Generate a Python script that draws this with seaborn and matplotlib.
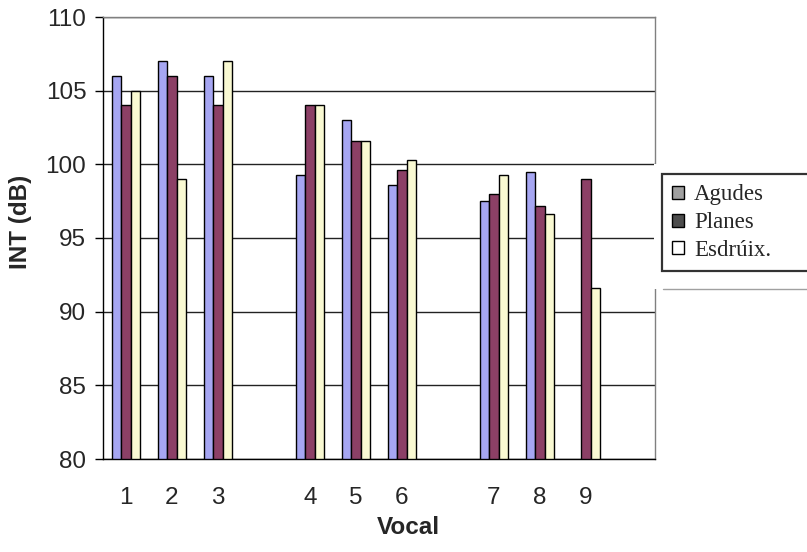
import numpy as np
import pandas as pd
import matplotlib
matplotlib.use('Agg')
import matplotlib.pyplot as plt
from matplotlib.patches import Patch, Rectangle
from matplotlib.lines import Line2D
import seaborn as sns

# dades (valors llegits del gràfic)
vocals = ['1', '2', '3', ' ', '4', '5', '6', '  ', '7', '8', '9', '   ']
agudes = [106, 107, 106, np.nan, 99.3, 103, 98.6, np.nan, 97.5, 99.5, np.nan, np.nan]
planes = [104, 106, 104, np.nan, 104, 101.6, 99.6, np.nan, 98, 97.2, 99, np.nan]
esdruix = [105, 99, 107, np.nan, 104, 101.6, 100.3, np.nan, 99.3, 96.6, 91.6, np.nan]
series = ['Agudes', 'Planes', 'Esdrúix.']
colors = ['#9999FF', '#993366', '#FFFFCC']
legend_colors = ['#A0A0A0', '#4D4D4D', '#FFFFFF']

df = pd.DataFrame({'vocal': vocals * 3,
                   'tipus': [s for s in series for _ in vocals],
                   'int': agudes + planes + esdruix})

sns.set_style('white')
plt.rcParams['font.family'] = ['Liberation Sans', 'DejaVu Sans']

fig = plt.figure(figsize=(8.07, 5.52), dpi=100)
ax = fig.add_axes([103/807, 1-459/552, 552/807, 442/552])

sns.barplot(data=df, x='vocal', y='int', hue='tipus', order=vocals,
            hue_order=series, palette=colors, width=0.6, gap=0,
            edgecolor='black', linewidth=1, errorbar=None, legend=False, ax=ax)

ax.set_ylim(80, 110)
ax.set_yticks(range(80, 111, 5))
ax.set_xlim(-0.5, len(vocals) - 0.5)
ax.yaxis.grid(True, color='#222222', linewidth=1)
ax.set_axisbelow(True)

# ticks: etiquetes al centre, marques a les fronteres
ax.set_xticks(range(len(vocals)))
ax.set_xticklabels(vocals)
ax.set_xticks(np.arange(-0.5, len(vocals)), minor=True)
ax.tick_params(axis='x', which='major', length=0, pad=20, labelsize=17.5)
ax.tick_params(axis='x', which='minor', length=6, width=1, color='black')
ax.tick_params(axis='y', length=6, width=1, color='black', pad=6, labelsize=17.5, left=True)

for s in ['left', 'bottom']:
    ax.spines[s].set_color('black')
    ax.spines[s].set_linewidth(1)
for s in ['top', 'right']:
    ax.spines[s].set_color('#808080')
    ax.spines[s].set_linewidth(1)

ax.set_xlabel('Vocal', fontsize=17.5, fontweight='bold')
ax.set_ylabel('INT (dB)', fontsize=17.5, fontweight='bold')
ax.xaxis.set_label_coords(0.553, -0.13)
ax.yaxis.set_label_coords(-0.128, 0.536)

# zona blanca de la llegenda (com a l'original)
fig.patches.append(Rectangle((654/807, 1-289/552), 153/807, 125/552,
                             transform=fig.transFigure, facecolor='white',
                             edgecolor='none', zorder=2))
fig.lines.append(Line2D([663/807, 1], [1-289/552, 1-289/552], transform=fig.transFigure,
                        color='#A0A0A0', linewidth=1, zorder=3))

handles = [Patch(facecolor=c, edgecolor='black', linewidth=1) for c in legend_colors]
leg = fig.legend(handles, series, loc='upper left', mode='expand',
                 bbox_to_anchor=(662/807, 1-174/552, 160/807, 0.0),
                 bbox_transform=fig.transFigure,
                 prop={'family': 'Liberation Serif', 'size': 16.5},
                 handlelength=0.5, handleheight=0.5, handletextpad=0.45,
                 labelspacing=0.3, borderpad=0.45, borderaxespad=0,
                 fancybox=False, frameon=True)
leg.get_frame().set_edgecolor('black')
leg.get_frame().set_linewidth(1.6)
leg.set_zorder(5)

fig.savefig('out.png', dpi=100)
